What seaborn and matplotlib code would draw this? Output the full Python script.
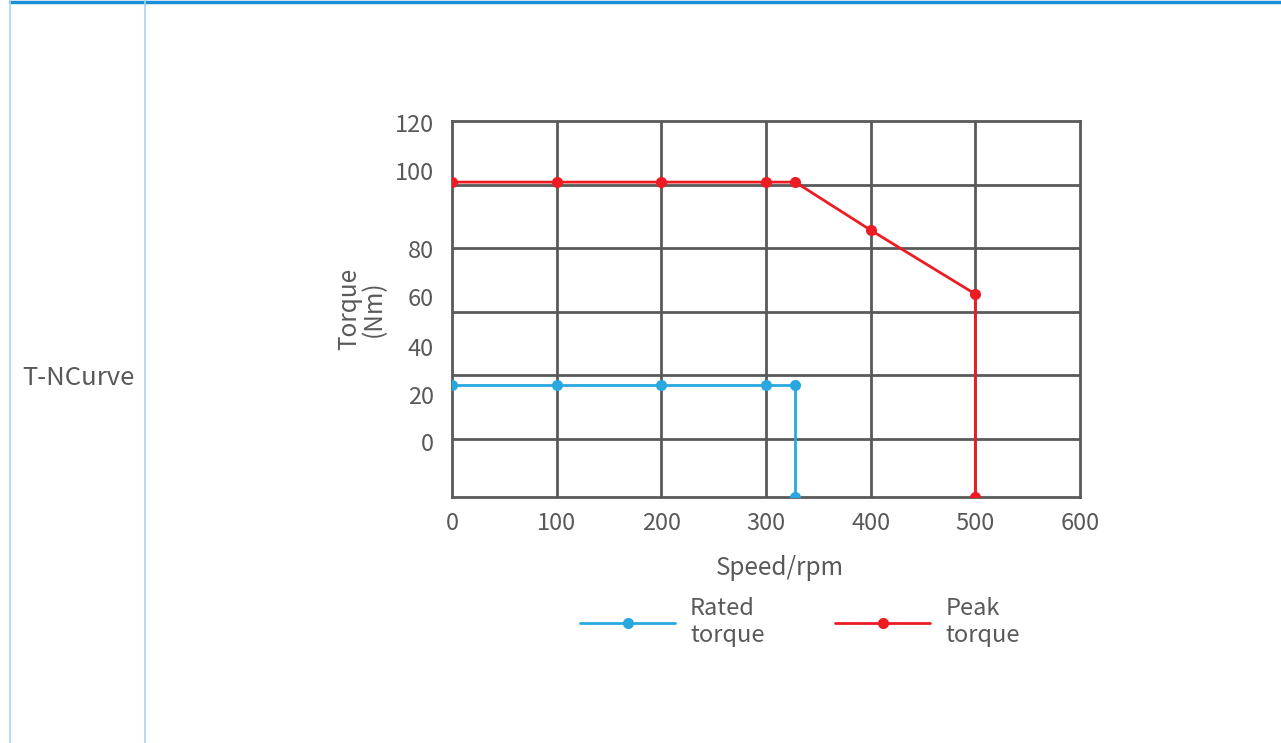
import matplotlib
matplotlib.use("Agg")
import matplotlib.pyplot as plt
from matplotlib.lines import Line2D
import seaborn as sns
import pandas as pd

# ---- data (y in the grid's own scale) ----
rated_speed = [0, 100, 200, 300, 328, 328]
rated_torque = [37, 37, 37, 37, 37, 1.8]
peak_speed = [0, 100, 200, 300, 328, 400, 500, 500]
peak_torque = [100.8, 100.8, 100.8, 100.8, 100.8, 85.7, 65.6, 1.8]
series_names = ["Rated\ntorque", "Peak\ntorque"]
x_ticks = [0, 100, 200, 300, 400, 500, 600]
y_grid = [20, 40, 60, 80, 100]
y_tick_labels = ["120", "100", "80", "60", "40", "20", "0"]
y_tick_pos = [119.4, 104.3, 79.8, 64.7, 49.0, 33.9, 19.2]

df = pd.concat([
    pd.DataFrame({"speed": rated_speed, "torque": rated_torque, "series": series_names[0]}),
    pd.DataFrame({"speed": peak_speed, "torque": peak_torque, "series": series_names[1]}),
], ignore_index=True)

sns.set_theme(style="white")
plt.rcParams["font.family"] = ["Noto Sans CJK SC", "DejaVu Sans"]
plt.rcParams["font.weight"] = "light"

TEXT = "#595959"
GRID = "#5a5a5a"
BLUE = "#29a8e0"
RED = "#ed1c24"

fig = plt.figure(figsize=(12.81, 7.43), dpi=100)
ax = fig.add_axes([0.3528, 0.3311, 0.4903, 0.5060])

sns.lineplot(data=df, x="speed", y="torque", hue="series", sort=False, estimator=None,
             units="series", palette=[BLUE, RED], marker="o", markersize=8,
             markeredgewidth=0, linewidth=2, ax=ax, zorder=5)

ax.set_xlim(0, 600)
ax.set_ylim(1.8, 120)
ax.set_xticks(x_ticks)
ax.set_xticklabels([str(v) for v in x_ticks], fontsize=17, color=TEXT)
ax.set_yticks(y_tick_pos)
ax.set_yticklabels(y_tick_labels, fontsize=17, color=TEXT)
ax.tick_params(axis="x", length=0, pad=11)
ax.tick_params(axis="y", length=0, pad=13)

for xv in x_ticks[1:-1]:
    ax.axvline(xv, color=GRID, lw=2, zorder=1)
for yv in y_grid:
    ax.axhline(yv, color=GRID, lw=2, zorder=1)
for s in ax.spines.values():
    s.set_visible(True)
    s.set_color(GRID)
    s.set_linewidth(2)

ax.set_xlabel("Speed/rpm", fontsize=17.5, color=TEXT)
ax.xaxis.set_label_coords(0.522, -0.154)
ax.set_ylabel("Torque\n(Nm)", fontsize=17.5, color=TEXT, labelpad=5.5, linespacing=0.95)

handles, labels = ax.get_legend_handles_labels()
ax.legend(handles, labels, ncol=2, frameon=False, fontsize=17, labelcolor=TEXT,
          handlelength=4.0, handletextpad=0.65, columnspacing=3.0,
          loc="center", bbox_to_anchor=(800 / 1281, 1 - 622 / 743),
          bbox_transform=fig.transFigure)

# table frame
fig.add_artist(Line2D([10 / 1281, 1], [1 - 1.5 / 743] * 2, color="#1a8ed6", lw=2.5))
fig.add_artist(Line2D([10 / 1281] * 2, [0, 1], color="#a9d5ef", lw=1.2))
fig.add_artist(Line2D([145 / 1281] * 2, [0, 1], color="#a9d5ef", lw=1.2))
fig.text(78 / 1281, 1 - 378 / 743, "T-NCurve", fontsize=18.5, color=TEXT, ha="center", va="center")

fig.savefig("out.png", dpi=100, facecolor="white")
